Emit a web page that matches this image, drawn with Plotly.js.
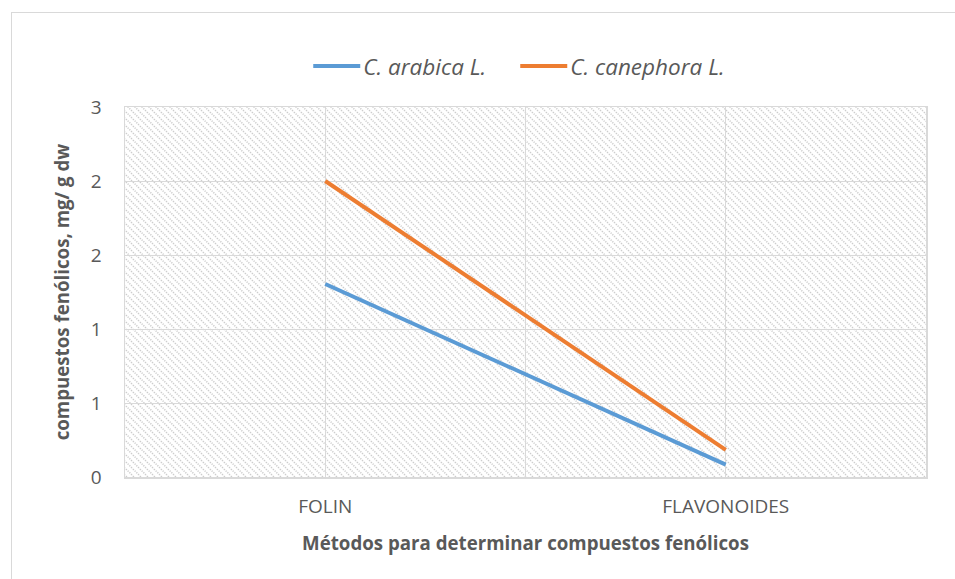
<!DOCTYPE html>
<html>
<head>
<meta charset="utf-8">
<script src="https://cdn.plot.ly/plotly-3.0.1.min.js"></script>
<style>
  html, body { margin: 0; padding: 0; background: #ffffff; }
  #wrap { position: relative; width: 955px; height: 579px; overflow: hidden; }
  #frame { position: absolute; left: 11px; top: 12px; width: 980px; height: 620px;
           border: 1.5px solid #d9d9d9; box-sizing: border-box; }
  #chart { position: absolute; left: 0; top: 0; width: 955px; height: 579px; }
</style>
</head>
<body>
<div id="wrap">
  <div id="frame"></div>
  <div id="chart"></div>
</div>
<script>
// Phenolic compound content by determination method
const methods = ['FOLIN', 'FLAVONOIDES'];
const methodPos = [1, 2];
const arabica = [1.565, 0.10];
const canephora = [2.40, 0.22];
const seriesNames = ['C. arabica L.', 'C. canephora L.'];
const yTicks = [0, 0.6, 1.2, 1.8, 2.4, 3.0];

const font = { family: 'Open Sans, Noto Sans, sans-serif', color: '#595959' };

const traces = [
  {
    x: methodPos, y: arabica, name: seriesNames[0], type: 'scatter', mode: 'lines',
    line: { color: '#5B9BD5', width: 4 }
  },
  {
    x: methodPos, y: canephora, name: seriesNames[1], type: 'scatter', mode: 'lines',
    line: { color: '#ED7D31', width: 4 }
  }
];

const layout = {
  width: 955, height: 579,
  margin: { l: 125, r: 29, t: 107, b: 102 },
  paper_bgcolor: 'rgba(0,0,0,0)',
  plot_bgcolor: '#ffffff',
  font: Object.assign({ size: 19 }, font),
  showlegend: true,
  legend: {
    orientation: 'h', x: 0.2475, xanchor: 'left', y: 1.11, yanchor: 'middle',
    font: Object.assign({ size: 22.5, style: 'italic' }, font),
    bgcolor: 'rgba(0,0,0,0)', entrywidth: 162, entrywidthmode: 'pixels',
    itemwidth: 30, tracegroupgap: 0
  },
  xaxis: {
    range: [0.5, 2.5],
    tickvals: methodPos, ticktext: methods,
    showgrid: true, gridcolor: '#d9d9d9', gridwidth: 1,
    minor: { tickvals: [0.5, 1.5, 2.5], showgrid: true, gridcolor: '#d9d9d9', gridwidth: 1 },
    showline: true, linecolor: '#d9d9d9', linewidth: 1.5, mirror: true,
    ticks: 'outside', ticklen: 12, tickcolor: 'rgba(0,0,0,0)',
    zeroline: false,
    tickfont: Object.assign({ size: 19 }, font),
    title: { text: '<b>Métodos para determinar compuestos fenólicos</b>',
             font: Object.assign({ size: 18.7 }, font), standoff: 18 }
  },
  yaxis: {
    range: [0, 3],
    tickvals: yTicks, tickformat: '.0f',
    showgrid: true, gridcolor: '#d9d9d9', gridwidth: 1,
    showline: true, linecolor: '#d9d9d9', linewidth: 1.5, mirror: true,
    ticks: 'outside', ticklen: 18, tickcolor: 'rgba(0,0,0,0)',
    zeroline: false,
    tickfont: Object.assign({ size: 19 }, font),
    title: { text: '<b>compuestos fenólicos, mg/ g dw</b>',
             font: Object.assign({ size: 18.7 }, font), standoff: 16 }
  }
};

Plotly.newPlot('chart', traces, layout, { displayModeBar: false, staticPlot: true }).then(function (gd) {
  const svg = gd.querySelector('svg.main-svg');
  const ns = 'http://www.w3.org/2000/svg';

  // Longer legend line samples, ending just before the label text
  gd.querySelectorAll('.legend [clip-path]').forEach(function (el) {
    el.removeAttribute('clip-path');
  });
  gd.querySelectorAll('.legend .legendlines path').forEach(function (p) {
    p.setAttribute('d', 'M-10,0h47');
  });

  // Diagonal hatch fill for the plotting area background
  let defs = svg.querySelector('defs');
  if (!defs) { defs = document.createElementNS(ns, 'defs'); svg.insertBefore(defs, svg.firstChild); }
  const pat = document.createElementNS(ns, 'pattern');
  pat.setAttribute('id', 'hatchDown');
  pat.setAttribute('patternUnits', 'userSpaceOnUse');
  pat.setAttribute('width', '7');
  pat.setAttribute('height', '7');
  const bg = document.createElementNS(ns, 'rect');
  bg.setAttribute('width', '7'); bg.setAttribute('height', '7'); bg.setAttribute('fill', '#ffffff');
  pat.appendChild(bg);
  [[-7, 0], [0, 0], [7, 0]].forEach(function (o) {
    const ln = document.createElementNS(ns, 'line');
    ln.setAttribute('x1', o[0]); ln.setAttribute('y1', 0);
    ln.setAttribute('x2', o[0] + 7); ln.setAttribute('y2', 7);
    ln.setAttribute('stroke', '#cccccc');
    ln.setAttribute('stroke-width', '1.6');
    ln.setAttribute('stroke-dasharray', '1.2 1.2');
    pat.appendChild(ln);
  });
  defs.appendChild(pat);
  const plotBg = svg.querySelector('rect.bg');
  if (plotBg) { plotBg.style.fill = 'url(#hatchDown)'; }
});
</script>
</body>
</html>
